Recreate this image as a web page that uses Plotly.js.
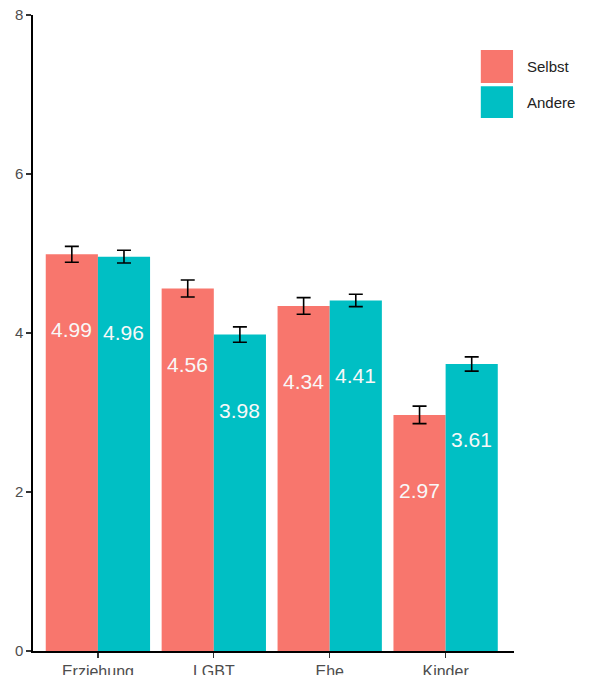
<!DOCTYPE html>
<html>
<head>
<meta charset="utf-8">
<script src="https://cdn.plot.ly/plotly-3.0.1.min.js"></script>
<style>html,body{margin:0;padding:0;background:#fff;}#chart{width:595px;height:675px;}</style>
</head>
<body>
<div id="chart"></div>
<script>
const categories = ["Erziehung", "LGBT", "Ehe", "Kinder"];
const seriesNames = ["Selbst", "Andere"];
const selbstValues = [4.99, 4.56, 4.34, 2.97];
const andereValues = [4.96, 3.98, 4.41, 3.61];
const selbstErrors = [0.10, 0.107, 0.105, 0.11];
const andereErrors = [0.08, 0.097, 0.078, 0.09];
const yTicks = [0, 2, 4, 6, 8];

const colors = ["#F8766D", "#00BFC4"];
const allValues = [selbstValues, andereValues];
const allErrors = [selbstErrors, andereErrors];

const traces = allValues.map((vals, s) => ({
  type: "bar",
  name: seriesNames[s],
  x: categories,
  y: vals,
  marker: {color: colors[s], line: {width: 0}},
  error_y: {type: "data", array: allErrors[s], visible: true, color: "#000", thickness: 1.6, width: 7},
  showlegend: false,
  hoverinfo: "x+y"
}));

const annotations = [];
allValues.forEach((vals, s) => {
  vals.forEach((v, i) => {
    annotations.push({
      x: i, y: v - 0.95, xref: "x", yref: "y",
      text: v.toFixed(2), showarrow: false,
      xshift: s === 0 ? -26 : 26,
      font: {family: "Liberation Sans, Arial, sans-serif", size: 21, color: "#f8f8f8"}
    });
  });
});

// legend (custom, ggplot-style large keys)
const legendKeys = [
  {y0: 0.893, y1: 0.945, yc: 0.919},
  {y0: 0.838, y1: 0.888, yc: 0.863}
];
const shapes = legendKeys.map((k, s) => ({
  type: "rect", xref: "paper", yref: "paper",
  x0: 0.931, x1: 0.998, y0: k.y0, y1: k.y1,
  fillcolor: colors[s], line: {width: 0}
}));
legendKeys.forEach((k, s) => {
  annotations.push({
    xref: "paper", yref: "paper", x: 1.022, y: k.yc,
    xanchor: "left", yanchor: "middle", showarrow: false,
    text: seriesNames[s],
    font: {family: "Liberation Sans, Arial, sans-serif", size: 15, color: "#222"}
  });
});

const layout = {
  width: 595, height: 675,
  margin: {l: 33, r: 81, t: 15, b: 24},
  paper_bgcolor: "#fff", plot_bgcolor: "#fff",
  barmode: "group", bargap: 0.1, bargroupgap: 0,
  showlegend: false,
  xaxis: {
    type: "category", range: [-0.56, 3.59],
    showline: true, linecolor: "#000", linewidth: 1.6,
    ticks: "outside", ticklen: 5, tickcolor: "#333", tickwidth: 1.2,
    showgrid: false, zeroline: false,
    tickfont: {family: "Liberation Sans, Arial, sans-serif", size: 16, color: "#4d4d4d"}
  },
  yaxis: {
    range: [0, 8], tickvals: yTicks, ticktext: yTicks.map(String),
    showline: true, linecolor: "#000", linewidth: 1.6,
    ticks: "outside", ticklen: 5, tickcolor: "#333", tickwidth: 1.2,
    showgrid: false, zeroline: false,
    tickfont: {family: "Liberation Sans, Arial, sans-serif", size: 15, color: "#4d4d4d"}
  },
  annotations: annotations,
  shapes: shapes
};

Plotly.newPlot("chart", traces, layout, {displayModeBar: false, staticPlot: true});
</script>
</body>
</html>
